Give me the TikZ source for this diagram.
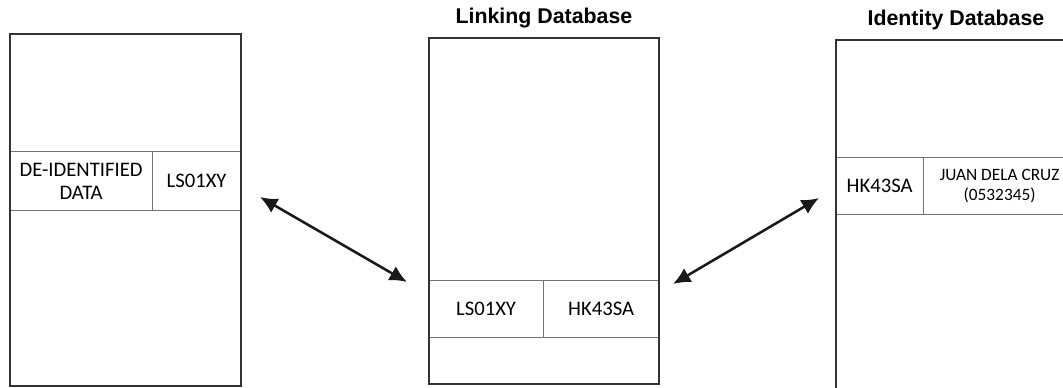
\documentclass[tikz,border=0pt]{standalone}
\usepackage{fontspec}
\setmainfont{Carlito}
\newfontfamily\titlefont{Liberation Sans}
\usepackage{xcolor}
\usetikzlibrary{arrows.meta, positioning}

\begin{document}
\begin{tikzpicture}[x=0.75pt, y=-0.75pt,
    cell/.style={rectangle, draw=black!55, line width=0.9pt, anchor=north west, inner sep=0pt, align=center, font=\fontsize{15.5}{17}\selectfont},
    dbbox/.style={rectangle, draw=black!80, line width=1.4pt, anchor=north west, inner sep=0pt},
    dbtitle/.style={font=\titlefont\bfseries\fontsize{16}{18}\selectfont},
    link/.style={{Latex[length=13pt,width=12pt]}-{Latex[length=13pt,width=12pt]}, line width=1.9pt, black!90}]

        \useasboundingbox (0,0) rectangle (1063,387);

        % de-identified data store
        \node[cell, minimum width=107.25pt, minimum height=44.25pt] (deid) at (9,151) {DE-IDENTIFIED\\DATA};
        \node[cell, minimum width=66pt, minimum height=44.25pt] (deidkey) at (152,151) {LS01XY};
        \node[dbbox, minimum width=173.25pt, minimum height=264pt] (deidDB) at (9,33) {};

        % linking database
        \node[cell, minimum width=86.25pt, minimum height=42.75pt] (linkA) at (428,280) {LS01XY};
        \node[cell, minimum width=86.25pt, minimum height=42.75pt] (linkB) at (543,280) {HK43SA};
        \node[dbbox, minimum width=172.5pt, minimum height=259.5pt] (linkDB) at (428,37) {};
        \node[dbtitle, above=3pt of linkDB] (linkT) {Linking Database};

        % identity database
        \node[cell, minimum width=66pt, minimum height=42.75pt] (idkey) at (835,157) {HK43SA};
        \node[cell, minimum width=114pt, minimum height=42.75pt, font=\fontsize{13}{15}\selectfont] (idname) at (923,157) {JUAN DELA CRUZ\\(0532345)};
        \node[dbbox, minimum width=180pt, minimum height=278.25pt] (idDB) at (835,39) {};
        \node[dbtitle, above=3pt of idDB] (idT) {Identity Database};

        \coordinate (l1) at (260,197);
        \coordinate (l2) at (407,282);
        \coordinate (r1) at (673,284);
        \coordinate (r2) at (819,198);

        \draw[link] (l1) -- (l2);
        \draw[link] (r1) -- (r2);

\end{tikzpicture}
\end{document}
